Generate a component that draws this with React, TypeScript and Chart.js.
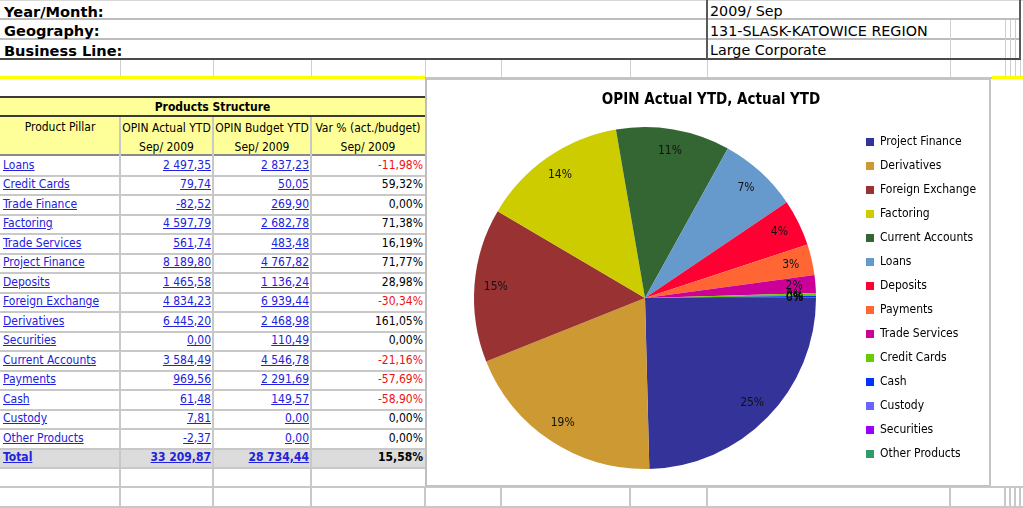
import React, { useEffect, useRef } from 'react';
import { Chart, registerables } from 'chart.js';

Chart.register(...registerables);

const FONT = '"DejaVu Sans Condensed", "DejaVu Sans", sans-serif';
const HFONT = '"DejaVu Sans", sans-serif';

// ---- header block ----
const headerLabels = ['Year/Month:', 'Geography:', 'Business Line:'];
const headerValues = ['2009/ Sep', '131-SLASK-KATOWICE REGION', 'Large Corporate'];

// ---- table ----
const tableTitle = 'Products Structure';
const columnHeads = ['Product Pillar', 'OPIN Actual YTD', 'OPIN Budget YTD', 'Var % (act./budget)'];
const columnPeriods = ['', 'Sep/ 2009', 'Sep/ 2009', 'Sep/ 2009'];
const products = [
  'Loans', 'Credit Cards', 'Trade Finance', 'Factoring', 'Trade Services', 'Project Finance',
  'Deposits', 'Foreign Exchange', 'Derivatives', 'Securities', 'Current Accounts', 'Payments',
  'Cash', 'Custody', 'Other Products',
];
const actualYTD = [2497.35, 79.74, -82.52, 4597.79, 561.74, 8189.80, 1465.58, 4834.23, 6445.20, 0.00, 3584.49, 969.56, 61.48, 7.81, -2.37];
const budgetYTD = [2837.23, 50.05, 269.90, 2682.78, 483.48, 4767.82, 1136.24, 6939.44, 2468.98, 110.49, 4546.78, 2291.69, 149.57, 0.00, 0.00];
const varPct = [-11.98, 59.32, 0.00, 71.38, 16.19, 71.77, 28.98, -30.34, 161.05, 0.00, -21.16, -57.69, -58.90, 0.00, 0.00];
const totalLabel = 'Total';
const totalActual = 33209.87;
const totalBudget = 28734.44;
const totalVar = 15.58;

// ---- pie ----
const chartTitle = 'OPIN Actual YTD, Actual YTD';
const pieLabels = [
  'Project Finance', 'Derivatives', 'Foreign Exchange', 'Factoring', 'Current Accounts', 'Loans',
  'Deposits', 'Payments', 'Trade Services', 'Credit Cards', 'Cash', 'Custody', 'Securities', 'Other Products',
];
const pieValues = [8189.80, 6445.20, 4834.23, 4597.79, 3584.49, 2497.35, 1465.58, 969.56, 561.74, 79.74, 61.48, 7.81, 0.00, -2.37];
const pieColors = [
  '#333399', '#CC9933', '#993333', '#CCCC00', '#336633', '#6699CC', '#FF0033',
  '#FF6633', '#CC0099', '#66CC00', '#0033FF', '#6666FF', '#9900FF', '#339966',
];
const piePctLabels = ['25%', '19%', '15%', '14%', '11%', '7%', '4%', '3%', '2%', '0%', '0%', '0%', '0%', '0%'];

function fmt(v: number) {
  const neg = v < 0;
  const [i, d] = Math.abs(v).toFixed(2).split('.');
  const g = i.replace(/\B(?=(\d{3})+(?!\d))/g, ' ');
  return (neg ? '-' : '') + g + ',' + d;
}
function fmtPct(v: number) {
  return v.toFixed(2).replace('.', ',') + '%';
}

const GRID = '#C8C8C8';
const DARK = '#3a3a3a';
const LINK = '#2222DD';

function Ln({ x, y, w, h, c }: { x: number; y: number; w: number; h: number; c: string }) {
  return <div style={{ position: 'absolute', left: x, top: y, width: w, height: h, background: c }} />;
}

function Tx(props: { x: number; y: number; w: number; h: number; align?: any; style?: any; children?: any }) {
  const { x, y, w, h, align, style, children } = props;
  return (
    <div
      style={{
        position: 'absolute', left: x, top: y, width: w, height: h, lineHeight: h + 'px',
        textAlign: align || 'left', whiteSpace: 'nowrap', overflow: 'visible', ...style,
      }}
    >
      {children}
    </div>
  );
}

const pctPlugin = {
  id: 'pctLabels',
  afterDatasetsDraw(chart: any) {
    const meta = chart.getDatasetMeta(0);
    const ctx = chart.ctx;
    ctx.save();
    ctx.font = `12px ${FONT}`;
    ctx.fillStyle = '#111';
    ctx.textAlign = 'center';
    ctx.textBaseline = 'middle';
    meta.data.forEach((arc: any, i: number) => {
      const p = arc.getProps(['x', 'y', 'startAngle', 'endAngle', 'outerRadius'], true);
      const mid = (p.startAngle + p.endAngle) / 2;
      const r = p.outerRadius * 0.875;
      ctx.fillText(piePctLabels[i], p.x + Math.cos(mid) * r, p.y + Math.sin(mid) * r);
    });
    ctx.restore();
  },
};

const CW = 564;
const CH = 409;

function PieChart() {
  const ref = useRef<HTMLCanvasElement | null>(null);
  useEffect(() => {
    const canvas = ref.current!;
    const mctx = canvas.getContext('2d')!;
    const LF = 12;
    const LP = 12;
    mctx.font = `${LF}px ${FONT}`;
    const maxW = Math.max(...pieLabels.map((l) => mctx.measureText(l).width));
    const legendWidth = LP + (8 + LF / 2 + maxW) + 10;
    const legendLeft = 427;
    const padRight = Math.max(0, CW - legendLeft - legendWidth);
    const padLeft = 2 * 218 - legendLeft;
    const chart = new Chart(canvas, {
      type: 'pie',
      data: {
        labels: pieLabels,
        datasets: [
          {
            data: pieValues,
            backgroundColor: pieColors,
            borderWidth: 0,
            radius: 171,
            rotation: 90,
          } as any,
        ],
      },
      options: {
        responsive: false,
        animation: false,
        devicePixelRatio: 1,
        rotation: 90,
        layout: { padding: { left: padLeft, right: padRight, top: 0, bottom: 12 } },
        plugins: {
          title: {
            display: true,
            text: chartTitle,
            color: '#000',
            font: { size: 15, weight: 'bold', family: FONT },
            padding: { top: 13.5, bottom: 11.5 },
          },
          legend: {
            position: 'right',
            fullSize: false,
            labels: {
              boxWidth: 8,
              boxHeight: 8,
              padding: LP,
              color: '#000',
              font: { size: LF, family: FONT },
            },
          },
          tooltip: { enabled: false },
        },
      } as any,
      plugins: [pctPlugin],
    });
    return () => chart.destroy();
  }, []);
  return (
    <canvas
      ref={ref}
      width={CW}
      height={CH}
      style={{ position: 'absolute', left: 427, top: 78, width: CW, height: CH }}
    />
  );
}

export default function App() {
  const rowTop = (k: number) => 155.5 + 19.5 * k;
  const cols = [
    { x: 0, w: 120 },
    { x: 120, w: 93 },
    { x: 213, w: 98 },
    { x: 311, w: 114 },
  ];
  const gridXs = [120, 213, 311, 425, 501, 630, 707, 950, 1005, 1010, 1015, 1020];
  const lines: any[] = [];
  // top block
  lines.push(<Ln key="t0" x={0} y={0} w={1023} h={1} c="#D8D8D8" />);
  lines.push(<Ln key="t1" x={0} y={18} w={1021} h={2} c="#BDBDBD" />);
  lines.push(<Ln key="t2" x={0} y={38} w={1021} h={2} c="#BDBDBD" />);
  lines.push(<Ln key="t3" x={0} y={58} w={1021} h={2} c="#4a4a4a" />);
  lines.push(<Ln key="tv1" x={706} y={0} w={2} h={59} c="#5a5a5a" />);
  lines.push(<Ln key="tv2" x={1019} y={0} w={2} h={59} c="#5a5a5a" />);
  [950, 1005, 1010, 1015].forEach((x, i) =>
    lines.push(<Ln key={'tv3' + i} x={x} y={20} w={1} h={38} c="#CFCFCF" />)
  );
  // row 4 grid
  gridXs.forEach((x, i) => lines.push(<Ln key={'r4' + i} x={x} y={60} w={1} h={17} c="#CFCFCF" />));
  lines.push(<Ln key="r4y" x={0} y={76} w={425} h={3} c="#FFFF00" />);
  lines.push(<Ln key="r4g" x={425} y={77} w={567} h={2} c="#C4C4C4" />);
  lines.push(<Ln key="r4y2" x={992} y={76} w={31} h={3} c="#FFFF00" />);
  // table frame
  lines.push(<Ln key="tbTop" x={0} y={96} w={425} h={2} c={DARK} />);
  lines.push(<Ln key="tbHdr" x={0} y={98} w={425} h={57} c="#FFFF99" />);
  lines.push(<Ln key="tbT2" x={0} y={115} w={425} h={2} c={DARK} />);
  lines.push(<Ln key="tbT3" x={0} y={154} w={425} h={2} c="#8a8a8a" />);
  lines.push(<Ln key="tot" x={0} y={rowTop(15) + 1} w={425} h={19} c="#DCDCDC" />);
  for (let k = 1; k <= 16; k++) {
    lines.push(<Ln key={'rh' + k} x={0} y={rowTop(k) - 0.5} w={425} h={2} c={GRID} />);
  }
  [120, 213, 311].forEach((x, i) =>
    lines.push(<Ln key={'cv' + i} x={x - 1} y={117} w={2} h={370} c={GRID} />)
  );
  lines.push(<Ln key="shadow" x={425} y={78} w={3} h={409} c="#BEBEBE" />);
  // bottom rows
  lines.push(<Ln key="b1" x={0} y={486} w={1023} h={2} c={GRID} />);
  lines.push(<Ln key="b2" x={0} y={506} w={1023} h={2} c={GRID} />);
  gridXs.forEach((x, i) => lines.push(<Ln key={'b' + i} x={x - 1} y={488} w={2} h={18} c={GRID} />));

  const linkStyle = { color: LINK, textDecoration: 'underline' };

  return (
    <div
      style={{
        position: 'relative', width: 1023, height: 508, overflow: 'hidden', background: '#fff',
        fontFamily: FONT, fontSize: 11, color: '#000',
      }}
    >
      <style>{'body{margin:0;}'}</style>
      {lines}
      {/* chart box */}
      <div
        style={{
          position: 'absolute', left: 427, top: 78, width: 564, height: 409, boxSizing: 'border-box',
          border: '2px solid #C4C4C4', borderLeft: 'none', background: '#fff',
        }}
      />
      <PieChart />
      {/* header block */}
      {headerLabels.map((t, i) => (
        <Tx key={'hl' + i} x={4} y={i * 19.5 + 1.5} w={300} h={19} style={{ fontFamily: HFONT, fontWeight: 'bold', fontSize: 14.6 }}>
          {t}
        </Tx>
      ))}
      {headerValues.map((t, i) => (
        <Tx key={'hv' + i} x={710} y={i * 19.5 + 2} w={300} h={19} style={{ fontFamily: HFONT, fontSize: 14.3 }}>
          {t}
        </Tx>
      ))}
      {/* table header */}
      <Tx x={0} y={99} w={425} h={17} align="center" style={{ fontWeight: 'bold', fontSize: 12 }}>
        {tableTitle}
      </Tx>
      {columnHeads.map((t, i) => (
        <Tx key={'ch' + i} x={cols[i].x} y={i === 0 ? 117.5 : 119} w={cols[i].w} h={18} align="center" style={{ fontSize: 12 }}>
          {t}
        </Tx>
      ))}
      {columnPeriods.map((t, i) => (
        <Tx key={'cp' + i} x={cols[i].x} y={138} w={cols[i].w} h={18} align="center" style={{ fontSize: 12 }}>
          {t}
        </Tx>
      ))}
      {/* table rows */}
      {products.map((p, k) => (
        <React.Fragment key={'row' + k}>
          <Tx x={3} y={rowTop(k)} w={115} h={19.5} style={{ ...linkStyle, fontSize: 12 }}>
            {p}
          </Tx>
          <Tx x={120} y={rowTop(k)} w={91} h={19.5} align="right" style={{ ...linkStyle, fontSize: 12 }}>
            {fmt(actualYTD[k])}
          </Tx>
          <Tx x={213} y={rowTop(k)} w={96} h={19.5} align="right" style={{ ...linkStyle, fontSize: 12 }}>
            {fmt(budgetYTD[k])}
          </Tx>
          <Tx x={311} y={rowTop(k)} w={112} h={19.5} align="right" style={{ color: varPct[k] < 0 ? '#EE1111' : '#000', fontSize: 12 }}>
            {fmtPct(varPct[k])}
          </Tx>
        </React.Fragment>
      ))}
      <Tx x={3} y={rowTop(15)} w={115} h={19.5} style={{ ...linkStyle, fontWeight: 'bold', fontSize: 12 }}>
        {totalLabel}
      </Tx>
      <Tx x={120} y={rowTop(15)} w={91} h={19.5} align="right" style={{ ...linkStyle, fontWeight: 'bold', fontSize: 12 }}>
        {fmt(totalActual)}
      </Tx>
      <Tx x={213} y={rowTop(15)} w={96} h={19.5} align="right" style={{ ...linkStyle, fontWeight: 'bold', fontSize: 12 }}>
        {fmt(totalBudget)}
      </Tx>
      <Tx x={311} y={rowTop(15)} w={112} h={19.5} align="right" style={{ fontWeight: 'bold', fontSize: 12 }}>
        {fmtPct(totalVar)}
      </Tx>
    </div>
  );
}
